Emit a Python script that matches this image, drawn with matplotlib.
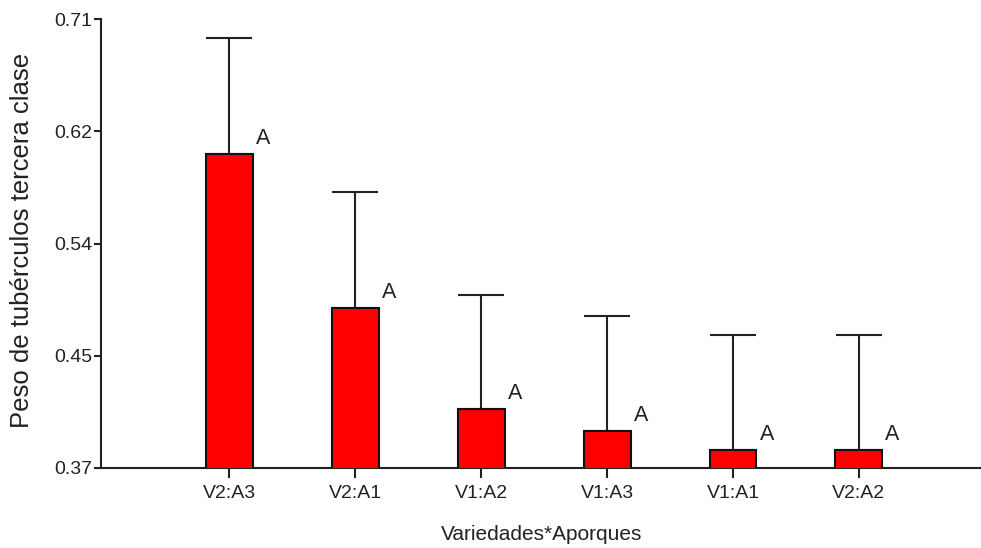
import matplotlib
matplotlib.use("Agg")
import matplotlib.pyplot as plt
import numpy as np

# Mean tuber weight (third class) per variety*hilling combination
categories = ["V2:A3", "V2:A1", "V1:A2", "V1:A3", "V1:A1", "V2:A2"]
means = [0.608, 0.491, 0.415, 0.398, 0.384, 0.384]
upper_err = [0.088, 0.088, 0.086, 0.087, 0.087, 0.087]
groups = ["A", "A", "A", "A", "A", "A"]

y_ticks = [0.37, 0.455, 0.54, 0.625, 0.71]
y_tick_labels = ["0.37", "0.45", "0.54", "0.62", "0.71"]

FONT = ["Liberation Sans", "DejaVu Sans"]
TXT = "#222222"

fig = plt.figure(figsize=(9.81, 5.48), dpi=100)
ax = fig.add_axes([0.103, 0.146, 0.897, 0.819])

x = np.arange(len(categories))
width = 0.373

ax.bar(x, means, width=width, color="#ff0000", edgecolor="#111111",
       linewidth=1.5, zorder=3)
ax.errorbar(x, means, yerr=[np.zeros(len(means)), upper_err], fmt="none",
            ecolor="#222222", elinewidth=1.5, capsize=16.8, capthick=1.5,
            zorder=2)

for xi, m, g in zip(x, means, groups):
    ax.annotate(g, xy=(xi + width / 2, m), xytext=(3, 10),
                textcoords="offset pixels", ha="left", va="baseline",
                fontsize=15.5, family=FONT, color=TXT)

ax.set_xlim(-1.02, 5.97)
ax.set_ylim(0.37, 0.71)
ax.set_xticks(x)
ax.set_xticklabels(categories)
ax.set_yticks(y_ticks)
ax.set_yticklabels(y_tick_labels)

for lab in ax.get_xticklabels() + ax.get_yticklabels():
    lab.set_family(FONT)
    lab.set_fontsize(14)
    lab.set_color(TXT)

ax.tick_params(axis="y", direction="out", length=5, width=1.5, pad=1.5,
               color="#222222")
ax.tick_params(axis="x", direction="out", length=7, width=1.5, pad=5,
               color="#222222")

for side in ("top", "right"):
    ax.spines[side].set_visible(False)
for side in ("left", "bottom"):
    ax.spines[side].set_linewidth(1.5)
    ax.spines[side].set_color("#222222")

ax.set_xlabel("Variedades*Aporques", family=FONT, fontsize=15, color=TXT)
ax.xaxis.set_label_coords(0.501, -0.149)
ax.xaxis.label.set_va("center")

ax.set_ylabel("Peso de tubérculos tercera clase", family=FONT,
              fontsize=18.5, color=TXT)
ax.yaxis.set_label_coords(-0.0898, 0.506)
ax.yaxis.label.set_va("center")

fig.savefig("out.png", dpi=100)
